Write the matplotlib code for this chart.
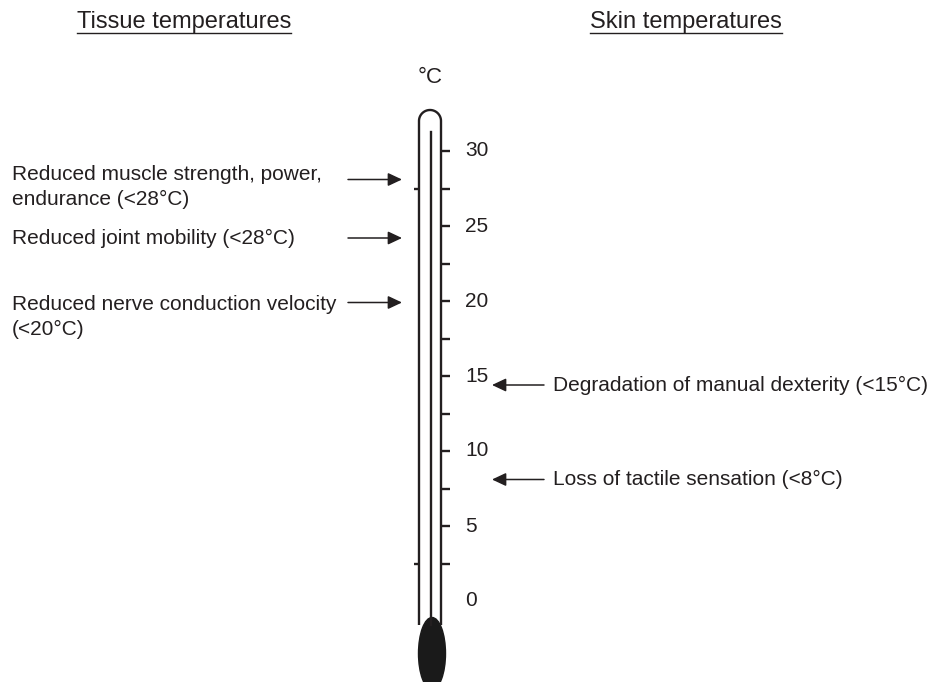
import numpy as np
import matplotlib
matplotlib.use("Agg")
import matplotlib.pyplot as plt
from matplotlib.patches import Ellipse

plt.rcParams['font.family'] = ['Liberation Sans', 'DejaVu Sans']

# === DATA ===
scale_ticks = [2.5, 5, 7.5, 10, 12.5, 15, 17.5, 20, 22.5, 25, 27.5, 30]
scale_labels = [0, 5, 10, 15, 20, 25, 30]
left_marks = [2.5, 27.5]

tissue_labels = ["Reduced muscle strength, power,\nendurance (<28\u00b0C)",
                 "Reduced joint mobility (<28\u00b0C)",
                 "Reduced nerve conduction velocity\n(<20\u00b0C)"]
tissue_arrow_temps = [28.1, 24.2, 19.9]
tissue_text_temps = [27.6, 24.2, 18.95]

skin_labels = ["Degradation of manual dexterity (<15\u00b0C)",
               "Loss of tactile sensation (<8\u00b0C)"]
skin_arrow_temps = [14.4, 8.1]

ink = "#231f20"

# === FIGURE ===
fig = plt.figure(figsize=(9.3, 6.82), dpi=100)
ax = fig.add_axes([0, 0, 1, 1])
ax.set_xlim(0, 930)
ax.set_ylim(-81 / 15, 601 / 15)   # 15 px per degree, 0 degC at y=601 px
ax.axis("off")

# thermometer tube
x_l, x_r, x_c = 419, 441, 430
bottom, straight_top = -1.6, 32.0
r_x, r_y = 11, 11 / 15
t = np.linspace(np.pi, 0, 60)
arc_x = x_c + r_x * np.cos(t)
arc_y = straight_top + r_y * np.sin(t)
tube_x = np.concatenate([[x_l], arc_x, [x_r]])
tube_y = np.concatenate([[bottom], arc_y, [bottom]])
ax.plot(tube_x, tube_y, color=ink, lw=1.7, solid_capstyle="butt")
ax.plot([x_c + 0.5, x_c + 0.5], [bottom, 31.3], color=ink, lw=1.7)

# bulb
ax.add_patch(Ellipse((432, -3.5), width=27, height=4.8, color="#1a1a1a"))

# scale
ax.hlines(scale_ticks, x_r, x_r + 9, color=ink, lw=1.7)
ax.hlines(left_marks, x_l - 5, x_l, color=ink, lw=1.7)
for v in scale_labels:
    ax.text(465, v, str(v), fontsize=15, color=ink, ha="left", va="center")
ax.text(430, 34.9, "\u00b0C", fontsize=16, color=ink, ha="center", va="center")

# tissue side
for lab, ya, yt in zip(tissue_labels, tissue_arrow_temps, tissue_text_temps):
    ax.text(12, yt, lab, fontsize=15, color=ink, ha="left", va="center",
            linespacing=1.4)
    ax.annotate("", xy=(402, ya), xytext=(348, ya),
                arrowprops=dict(arrowstyle="-|>,head_length=0.85,head_width=0.4",
                                mutation_scale=10, color=ink, lw=1.1,
                                shrinkA=0, shrinkB=0))

# skin side
for lab, ya in zip(skin_labels, skin_arrow_temps):
    ax.text(553, ya, lab, fontsize=15, color=ink, ha="left", va="center")
    ax.annotate("", xy=(492, ya), xytext=(544, ya),
                arrowprops=dict(arrowstyle="-|>,head_length=0.85,head_width=0.4",
                                mutation_scale=10, color=ink, lw=1.1,
                                shrinkA=0, shrinkB=0))

# headers with underline
headers = []
for x0, s in [(77, "Tissue temperatures"), (590, "Skin temperatures")]:
    headers.append(ax.text(x0, 38.6, s, fontsize=17, color=ink, ha="left", va="center"))

fig.canvas.draw()
inv = ax.transData.inverted()
for h in headers:
    bb = h.get_window_extent()
    (xa, _), (xb, _) = inv.transform([(bb.x0, bb.y0), (bb.x1, bb.y0)])
    ax.plot([xa, xb], [37.85, 37.85], color=ink, lw=1.0)

fig.savefig("out.png", dpi=100)
